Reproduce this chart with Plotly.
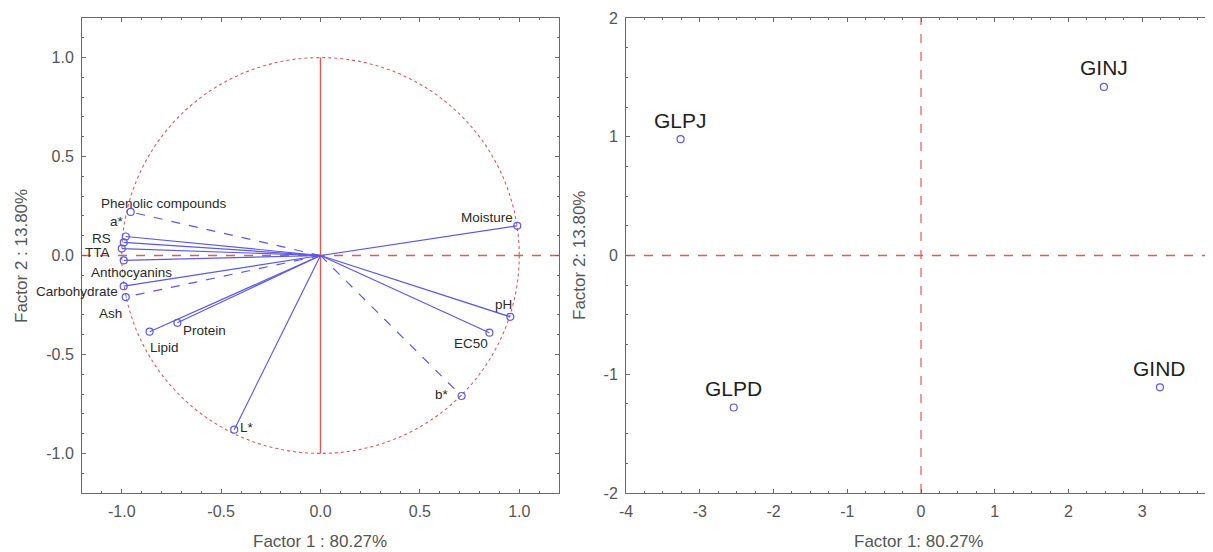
import plotly.graph_objects as go

# ---------------- data ----------------
var_names = ["Phenolic compounds", "a*", "RS", "TTA", "Anthocyanins", "Carbohydrate", "Ash",
             "Protein", "Lipid", "L*", "b*", "EC50", "pH", "Moisture"]
var_f1 = [-0.955, -0.98, -0.99, -1.0, -0.99, -0.99, -0.98, -0.72, -0.86, -0.434, 0.71, 0.85, 0.955, 0.99]
var_f2 = [0.22, 0.096, 0.066, 0.035, -0.025, -0.155, -0.21, -0.34, -0.385, -0.88, -0.71, -0.39, -0.31, 0.15]
var_dashed = [True, False, False, False, False, False, True, False, False, False, True, False, False, False]

case_names = ["GLPJ", "GINJ", "GLPD", "GIND"]
case_f1 = [-3.26, 2.48, -2.54, 3.24]
case_f2 = [0.98, 1.42, -1.28, -1.11]

left_ticks = [-1.0, -0.5, 0.0, 0.5, 1.0]
left_ticklabels = ["-1.0", "-0.5", "0.0", "0.5", "1.0"]
right_xticks = [-4, -3, -2, -1, 0, 1, 2, 3, 4]
right_xticklabels = ["-4", "-3", "-2", "-1", "0", "1", "2", "3", ""]
right_yticks = [-2, -1, 0, 1, 2]
right_yticklabels = ["-2", "-1", "0", "1", "2"]

left_xtitle = "Factor 1 : 80.27%"
left_ytitle = "Factor 2 : 13.80%"
right_xtitle = "Factor 1: 80.27%"
right_ytitle = "Factor 2: 13.80%"

# label pixel offsets (style)
var_label_shift = {
    "Phenolic compounds": (33, 8), "a*": (-9, 15), "RS": (-22, 4), "TTA": (-24, -4),
    "Anthocyanins": (8, -12), "Carbohydrate": (-47, -5), "Ash": (-15, -16),
    "Protein": (27, -8), "Lipid": (15, -16), "L*": (13, 2), "b*": (-20, 2),
    "EC50": (-18, -11), "pH": (-7, 12), "Moisture": (-30, 8),
}

W, H = 1213, 552
OFF = 8  # page body margin
BLUE = "#5a5ae6"
RED = "#e05a5a"
FRAME = "#6a6a6a"
TICKC = "#555555"
FONT = "Liberation Sans, Arial, sans-serif"


def px(x):
    return (x - OFF) / W


def py(y):
    return 1 - (y - OFF) / H


fig = go.Figure()

# ---------- left: loadings ----------
for name, x, y, d in zip(var_names, var_f1, var_f2, var_dashed):
    fig.add_trace(go.Scatter(x=[0, x], y=[0, y], mode="lines",
                             line=dict(color=BLUE, width=1.2, dash="dash" if d else "solid"),
                             xaxis="x", yaxis="y", showlegend=False, hoverinfo="skip"))
fig.add_trace(go.Scatter(x=var_f1, y=var_f2, mode="markers", text=var_names,
                         marker=dict(symbol="circle-open", size=7, color=BLUE, line=dict(width=1.2)),
                         xaxis="x", yaxis="y", showlegend=False))

# ---------- right: scores ----------
fig.add_trace(go.Scatter(x=case_f1, y=case_f2, mode="markers", text=case_names,
                         marker=dict(symbol="circle-open", size=7, color=BLUE, line=dict(width=1.2)),
                         xaxis="x2", yaxis="y2", showlegend=False))

shapes = [
    dict(type="circle", xref="x", yref="y", x0=-1, y0=-1, x1=1, y1=1,
         line=dict(color=RED, width=1.1, dash="dot"), layer="below"),
    dict(type="line", xref="x", yref="y", x0=0, y0=-1, x1=0, y1=1,
         line=dict(color=RED, width=1.4), layer="below"),
    dict(type="line", xref="x", yref="y", x0=-1.2, y0=0, x1=1.2, y1=0,
         line=dict(color=RED, width=1.4, dash="dash"), layer="below"),
    dict(type="line", xref="x2", yref="y2", x0=0, y0=-2, x1=0, y1=2,
         line=dict(color=RED, width=1.2, dash="dash"), layer="below"),
    dict(type="line", xref="x2", yref="y2", x0=-4, y0=0, x1=4, y1=0,
         line=dict(color=RED, width=1.4, dash="dash"), layer="below"),
]

annotations = []
for name, x, y in zip(var_names, var_f1, var_f2):
    dx, dy = var_label_shift[name]
    annotations.append(dict(x=x, y=y, xref="x", yref="y", text=name, showarrow=False,
                            xshift=dx, yshift=dy, xanchor="center", yanchor="middle",
                            font=dict(size=13.5, color="#2a2a2a", family=FONT)))
for name, x, y in zip(case_names, case_f1, case_f2):
    annotations.append(dict(x=x, y=y, xref="x2", yref="y2", text=name, showarrow=False,
                            yshift=19, xanchor="center", yanchor="middle",
                            font=dict(size=21, color="#1e1e1e", family=FONT)))

# axis titles
annotations += [
    dict(x=px(320), y=py(541), xref="paper", yref="paper", text=left_xtitle, showarrow=False,
         xanchor="center", yanchor="middle", font=dict(size=17, color=TICKC, family=FONT)),
    dict(x=px(918), y=py(541), xref="paper", yref="paper", text=right_xtitle, showarrow=False,
         xanchor="center", yanchor="middle", font=dict(size=17, color=TICKC, family=FONT)),
    dict(x=px(21), y=py(256), xref="paper", yref="paper", text=left_ytitle, showarrow=False,
         textangle=-90, xanchor="center", yanchor="middle", font=dict(size=17, color=TICKC, family=FONT)),
    dict(x=px(579), y=py(256), xref="paper", yref="paper", text=right_ytitle, showarrow=False,
         textangle=-90, xanchor="center", yanchor="middle", font=dict(size=17, color=TICKC, family=FONT)),
]

axis_common = dict(showgrid=False, zeroline=False, showline=True, linecolor=FRAME, linewidth=1,
                   ticks="inside", ticklen=4, tickcolor=FRAME, automargin=False,
                   ticklabelstandoff=4,
                   tickfont=dict(size=16, color=TICKC, family=FONT))

ydom = [py(493), py(18)]
fig.update_layout(
    template="none",
    width=W, height=H, margin=dict(l=0, r=0, t=0, b=0, pad=0, autoexpand=False),
    paper_bgcolor="white", plot_bgcolor="white",
    xaxis=dict(domain=[px(82), px(559)], range=[-1.2, 1.2], tickvals=left_ticks, ticktext=left_ticklabels,
               mirror="allticks", anchor="y",
               minor=dict(dtick=0.1, ticks="inside", ticklen=2, tickcolor=FRAME), **axis_common),
    yaxis=dict(domain=ydom, range=[-1.2, 1.2], tickvals=left_ticks, ticktext=left_ticklabels,
               mirror="allticks", anchor="x",
               minor=dict(dtick=0.1, ticks="inside", ticklen=2, tickcolor=FRAME), **axis_common),
    xaxis2=dict(domain=[px(626), px(1216)], range=[-4, 4], tickvals=right_xticks, ticktext=right_xticklabels,
                mirror="allticks", anchor="y2",
                minor=dict(dtick=0.25, ticks="inside", ticklen=2, tickcolor=FRAME), **axis_common),
    yaxis2=dict(domain=ydom, range=[-2, 2], tickvals=right_yticks, ticktext=right_yticklabels,
                mirror="allticks", anchor="x2",
                minor=dict(dtick=0.25, ticks="inside", ticklen=2, tickcolor=FRAME), **axis_common),
    shapes=shapes, annotations=annotations,
)

fig.write_html("out.html")
